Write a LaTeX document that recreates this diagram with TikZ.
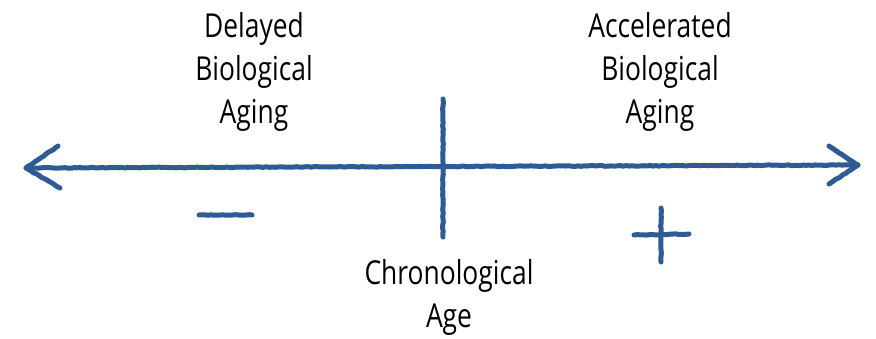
\documentclass[tikz,border=0pt]{standalone}
\usepackage{fontspec}
\setmainfont[FakeStretch=0.8]{Open Sans}
\usetikzlibrary{decorations.pathmorphing}
\definecolor{pen}{HTML}{2D5B92}
\tikzset{
  stroke/.style={draw=pen, line width=5pt, line cap=round, line join=round,
    decorate, decoration={random steps, segment length=3pt, amplitude=0.4pt}},
  lbl/.style={align=center, font=\fontsize{33}{43}\selectfont, text=black, inner sep=0pt}
}
\begin{document}
\begin{tikzpicture}[x=1pt,y=-1pt]
\useasboundingbox (0,0) rectangle (876,338);
% main axis
\coordinate (L) at (26,168);
\coordinate (R) at (858,165);
\draw[stroke] (L) -- (R);
\coordinate (Lu) at (58,146);
\coordinate (Ld) at (60,188);
\draw[stroke] (Lu) -- (L) -- (Ld);
\coordinate (Ru) at (829,146);
\coordinate (Rd) at (829,184);
\draw[stroke] (Ru) -- (R) -- (Rd);
% center tick
\coordinate (Ct) at (443,99);
\coordinate (Cb) at (443,237);
\draw[stroke] (Ct) -- (Cb);
% minus
\coordinate (M1) at (199,215);
\coordinate (M2) at (252,215);
\draw[stroke] (M1) -- (M2);
% plus
\coordinate (P1) at (634,235);
\coordinate (P2) at (689,234);
\coordinate (P3) at (661,208);
\coordinate (P4) at (661,262);
\draw[stroke] (P1) -- (P2);
\draw[stroke] (P3) -- (P4);
% labels
\node[lbl, anchor=base] (delayed) at (254,123) {Delayed\\Biological\\Aging};
\node[lbl, anchor=base] (accel) at (660,123) {Accelerated\\Biological\\Aging};
\node[lbl, anchor=base] (chrono) at (449,327) {Chronological\\Age};
\end{tikzpicture}
\end{document}
